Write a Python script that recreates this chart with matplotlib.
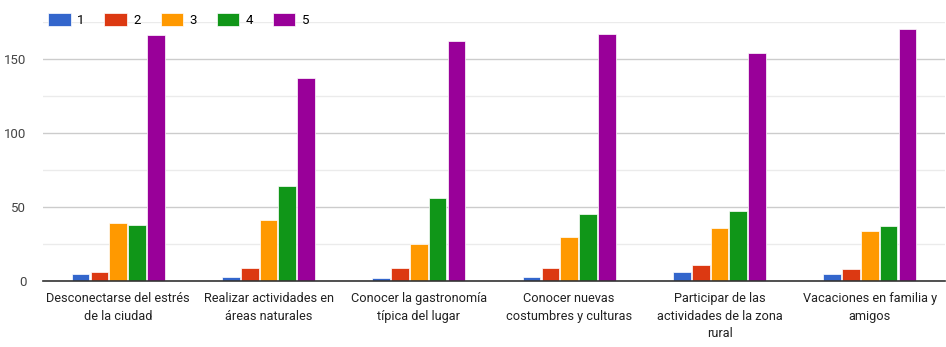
import numpy as np
import matplotlib.pyplot as plt

categories = ["Desconectarse del estrés\nde la ciudad",
              "Realizar actividades en\náreas naturales",
              "Conocer la gastronomía\ntípica del lugar",
              "Conocer nuevas\ncostumbres y culturas",
              "Participar de las\nactividades de la zona\nrural",
              "Vacaciones en familia y\namigos"]
series_names = ["1", "2", "3", "4", "5"]
s1 = [5, 3, 2, 3, 6, 5]
s2 = [6, 9, 9, 9, 11, 8]
s3 = [39, 41, 25, 30, 36, 34]
s4 = [38, 64, 56, 45, 47, 37]
s5 = [166, 137, 162, 167, 154, 170]
colors = ["#3366cc", "#dc3912", "#ff9900", "#109618", "#990099"]

plt.rcParams['font.family'] = ['Roboto', 'DejaVu Sans']

fig = plt.figure(figsize=(9.46, 3.47), dpi=100)
ax = fig.add_axes([43 / 946, 66 / 347, 902 / 946, 259 / 347])

x = np.arange(len(categories))
w = 0.125
for i, vals in enumerate([s1, s2, s3, s4, s5]):
    ax.bar(x + (i - 2) * w, vals, width=w * 0.94, color=colors[i],
           label=series_names[i], zorder=3, edgecolor="white", linewidth=0.5)

ax.set_xlim(-0.5, len(categories) - 0.5)
ax.set_ylim(0, 175)
ax.set_yticks([0, 50, 100, 150])
ax.set_yticks([25, 75, 125, 175], minor=True)
ax.grid(axis="y", which="major", color="#cccccc", linewidth=1, zorder=0)
ax.grid(axis="y", which="minor", color="#ebebeb", linewidth=1, zorder=0)
ax.tick_params(axis="y", which="both", length=0, labelsize=9.5, labelcolor="#444444", pad=12)
ax.set_xticks(x)
ax.set_xticklabels(categories, fontsize=9.2, color="#222222", linespacing=1.45)
ax.tick_params(axis="x", length=0, pad=8)
for s in ["top", "right", "left"]:
    ax.spines[s].set_visible(False)
ax.spines["bottom"].set_color("#333333")
ax.spines["bottom"].set_linewidth(1.2)
ax.spines["bottom"].set_zorder(4)

leg = ax.legend(loc="upper left", bbox_to_anchor=(0.0, 1.055), ncol=5, frameon=False,
                handlelength=1.7, handleheight=1.1, columnspacing=1.5,
                handletextpad=0.5, fontsize=9.5, borderaxespad=0)

fig.savefig("out.png", dpi=100)
